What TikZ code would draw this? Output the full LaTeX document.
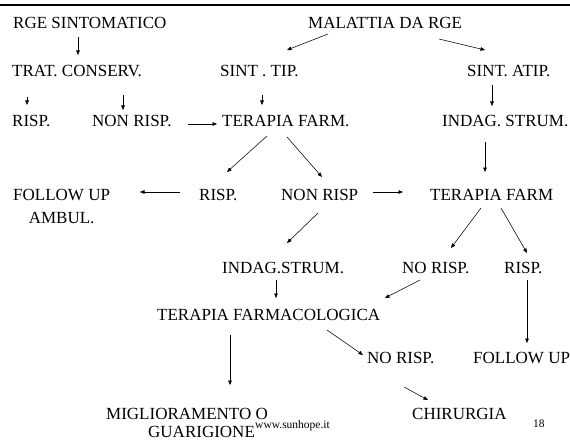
\documentclass[tikz,border=0pt]{standalone}
\usepackage{fontspec}
\setmainfont{Liberation Serif}
\usetikzlibrary{arrows.meta,calc}
\tikzset{
  lbl/.style ={anchor=west, inner sep=0pt, font=\fontsize{17}{23}\selectfont},
  foot/.style={anchor=base west, inner sep=0pt, font=\fontsize{11.5}{13}\selectfont},
  ar/.style  ={-{Triangle[length=4.5pt,width=3.6pt]}, line width=0.55pt, draw=black},
}
\begin{document}
\begin{tikzpicture}[x=1pt,y=-1pt]
\useasboundingbox (0,0) rectangle (570,441);
\draw[line width=2.4pt] (0,5) -- (570,5);

% first rows
\node[lbl] (rge)   at (13,23)  {RGE SINTOMATICO};
\node[lbl] (mal)   at (308,23) {MALATTIA DA RGE};
\node[lbl] (trat)  at (12,71)  {TRAT. CONSERV.};
\node[lbl] (stip)  at (220,71) {SINT . TIP.};
\node[lbl] (satip) at (467,71) {SINT. ATIP.};
\node[lbl] (risp1)    at (12,121)  {RISP.};
\node[lbl] (nonrisp1) at (92,121)  {NON RISP.};
\node[lbl] (terf1)    at (222,121) {TERAPIA FARM.};
\node[lbl] (indag1)   at (442,121) {INDAG. STRUM.};

% middle rows
\node[lbl, anchor=north west, align=center] (fu1) at (13,189.5) {FOLLOW UP\\AMBUL.};
\node[lbl] (risp2)    at (199,195) {RISP.};
\node[lbl] (nonrisp2) at (281,195) {NON RISP};
\node[lbl] (terf2)    at (430,195) {TERAPIA FARM};
\node[lbl] (indag2)   at (222,268) {INDAG.STRUM.};
\node[lbl] (norisp1)  at (402,268) {NO RISP.};
\node[lbl] (risp3)    at (504,268) {RISP.};
\node[lbl] (terfarm)  at (157,315) {TERAPIA FARMACOLOGICA};
\node[lbl] (norisp2)  at (367,358) {NO RISP.};
\node[lbl] (fu2)      at (473,358) {FOLLOW UP};

% last row and footer
\node[lbl] (migl) at (106,414) {MIGLIORAMENTO O};
\node[lbl] (guar) at (148,432) {GUARIGIONE};
\node[lbl] (chir) at (412,414) {CHIRURGIA};
\node[foot] (site) at (255,428) {www.sunhope.it};
\node[foot] (page) at (533,427.5) {18};

% arrows
\draw[ar] ($(rge.west)+(65,14)$)    -- ($(trat.west)+(66,-16)$);
\draw[ar] ($(mal.west)+(20,11)$)    -- ($(stip.west)+(67,-21)$);
\draw[ar] ($(mal.west)+(131,16)$)   -- ($(satip.west)+(18,-21)$);
\draw[ar] ($(trat.west)+(15,26)$)   -- ($(risp1.west)+(15,-16)$);
\draw[ar] ($(trat.west)+(111,24)$)  -- ($(nonrisp1.west)+(31,-11)$);
\draw[ar] ($(stip.west)+(42,24)$)   -- ($(terf1.west)+(40,-16)$);
\draw[ar] ($(nonrisp1.west)+(96,3)$) -- ($(terf1.west)+(-5,3)$);
\draw[ar] ($(satip.west)+(25,14)$)  -- ($(indag1.west)+(50,-15)$);
\draw[ar] ($(terf1.west)+(45,15)$)  -- ($(risp2.west)+(28,-23)$);
\draw[ar] ($(terf1.west)+(65,16)$)  -- ($(nonrisp2.west)+(41,-18)$);
\draw[ar] ($(risp2.west)+(-19,-3)$) -- ($(fu1.north west)+(127,2.5)$);
\draw[ar] ($(nonrisp2.west)+(92,-3)$) -- ($(terf2.west)+(-27,-3)$);
\draw[ar] ($(indag1.west)+(43,21)$) -- ($(terf2.west)+(55,-23)$);
\draw[ar] ($(nonrisp2.west)+(37,18)$) -- ($(indag2.west)+(65,-25)$);
\draw[ar] ($(terf2.west)+(51,13)$)  -- ($(norisp1.west)+(49,-20)$);
\draw[ar] ($(terf2.west)+(71,13)$)  -- ($(risp3.west)+(23,-15)$);
\draw[ar] ($(indag2.west)+(54,12)$) -- ($(terfarm.west)+(119,-17)$);
\draw[ar] ($(norisp1.west)+(18,12)$) -- ($(terfarm.west)+(228,-17)$);
\draw[ar] ($(risp3.west)+(23,12)$)  -- ($(fu2.west)+(54,-15)$);
\draw[ar] ($(terfarm.west)+(73,20)$) -- ($(migl.west)+(124,-29)$);
\draw[ar] ($(terfarm.west)+(170,15)$) -- ($(norisp2.west)+(-4,-3)$);
\draw[ar] ($(norisp2.west)+(37,29)$) -- ($(chir.west)+(16,-14)$);
\end{tikzpicture}
\end{document}
